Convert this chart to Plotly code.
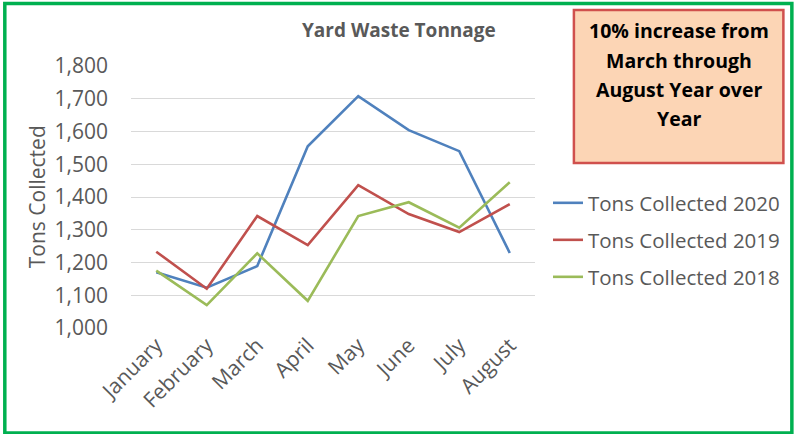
import plotly.graph_objects as go

months = ["January", "February", "March", "April", "May", "June", "July", "August"]
tons_2020 = [1170, 1123, 1189, 1555, 1708, 1604, 1540, 1229]
tons_2019 = [1233, 1120, 1342, 1253, 1436, 1348, 1293, 1378]
tons_2018 = [1175, 1070, 1228, 1083, 1342, 1384, 1306, 1445]
series_names = ["Tons Collected 2020", "Tons Collected 2019", "Tons Collected 2018"]
colors = ["#4F81BD", "#C0504D", "#9BBB59"]
title_text = "Yard Waste Tonnage"
y_title = "Tons Collected"
note_lines = ["10% increase from", "March through", "August Year over", "Year"]

W, H = 796, 434
L, R, T, B = 131, 536, 66, 328


def px(x):
    return (x - L) / (R - L)


def py(y):
    return (B - y) / (B - T)


FONT = "Open Sans"
GRAY = "#595959"

fig = go.Figure()
legends = ["legend", "legend2", "legend3"]
for vals, name, col, lg in zip([tons_2020, tons_2019, tons_2018], series_names, colors, legends):
    fig.add_trace(go.Scatter(x=months, y=vals, mode="lines", name=name,
                             line=dict(color=col, width=2.6), legend=lg))

leg_y = [203, 240, 277]
leg_common = dict(font=dict(family=FONT, size=20.5, color=GRAY), bgcolor="rgba(0,0,0,0)",
                  itemwidth=30, tracegroupgap=0, xanchor="left", yanchor="middle")
layout_leg = {}
for lg, yy in zip(legends, leg_y):
    layout_leg[lg] = dict(x=px(548), y=py(yy), **leg_common)

fig.update_layout(
    width=W, height=H,
    margin=dict(l=L, r=W - R, t=T, b=H - B, pad=0),
    paper_bgcolor="white", plot_bgcolor="white",
    showlegend=True,
    xaxis=dict(type="category", range=[-0.5, 7.5], showgrid=False, showline=False,
               ticks="", tickangle=-45, tickfont=dict(family=FONT, size=21, color=GRAY)),
    yaxis=dict(range=[1000, 1800], dtick=100, tickformat=",", showgrid=True,
               gridcolor="#D9D9D9", gridwidth=1, zeroline=False, showline=False, ticks="",
               ticklabelstandoff=22,
               tickfont=dict(family=FONT, size=21, color=GRAY)),
    **layout_leg,
)

annotations = [
    dict(text="<b>" + title_text + "</b>", x=px(400), y=py(30), xref="paper", yref="paper",
         showarrow=False, xanchor="center", yanchor="middle",
         font=dict(family=FONT, size=19, color=GRAY)),
    dict(text=y_title, x=px(37), y=py(197), xref="paper", yref="paper", textangle=-90,
         showarrow=False, xanchor="center", yanchor="middle",
         font=dict(family=FONT, size=21, color=GRAY)),
]
for i, line in enumerate(note_lines):
    annotations.append(dict(text="<b>" + line + "</b>", x=px(680), y=py(31 + i * 29),
                            xref="paper", yref="paper", showarrow=False,
                            xanchor="center", yanchor="middle",
                            font=dict(family=FONT, size=19.5, color="black")))
fig.update_layout(annotations=annotations)

shapes = [
    dict(type="rect", xref="paper", yref="paper", x0=px(575), x1=px(785), y0=py(163), y1=py(10),
         fillcolor="#FCD5B5", line=dict(color="#D0504D", width=2.5), layer="below"),
    dict(type="rect", xref="paper", yref="paper", x0=px(4.5), x1=px(793.5), y0=py(433), y1=py(3.5),
         fillcolor="rgba(0,0,0,0)", line=dict(color="#00B050", width=3.5)),
]
fig.update_layout(shapes=shapes)

fig.write_html("out.html", config={"displayModeBar": False},
               post_script="document.body.style.margin='0';document.body.style.overflow='hidden';")
